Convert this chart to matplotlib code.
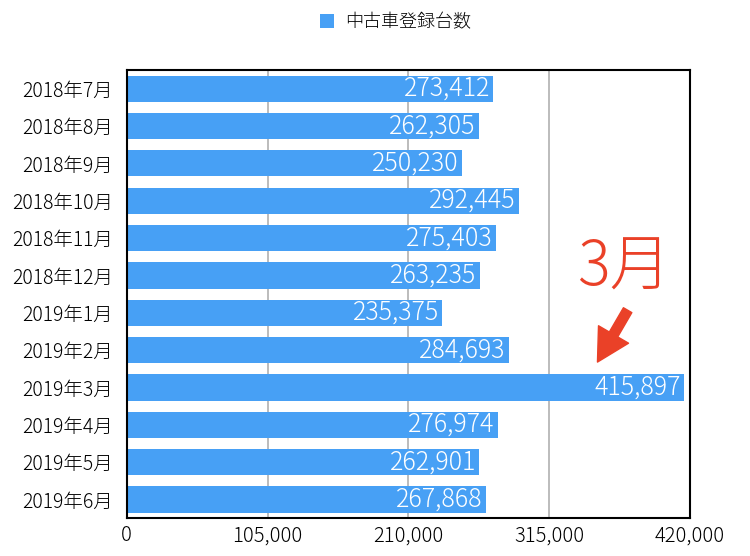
import matplotlib
matplotlib.use('Agg')
import matplotlib.pyplot as plt

plt.rcParams['font.family'] = ['Noto Sans CJK JP', 'DejaVu Sans']
plt.rcParams['font.weight'] = 'light'

# データ
months = ['2018年7月', '2018年8月', '2018年9月', '2018年10月', '2018年11月', '2018年12月',
          '2019年1月', '2019年2月', '2019年3月', '2019年4月', '2019年5月', '2019年6月']
counts = [273412, 262305, 250230, 292445, 275403, 263235,
          235375, 284693, 415897, 276974, 262901, 267868]
xticks = [0, 105000, 210000, 315000, 420000]
series_name = '中古車登録台数'

bar_color = '#47a0f5'
fig = plt.figure(figsize=(7.5, 5.56), dpi=100)
ax = fig.add_axes([0.169, 0.068, 0.751, 0.806])

y = list(range(len(months)))
bars = ax.barh(y, counts, height=0.7, color=bar_color, label=series_name, zorder=2)
ax.set_ylim(len(months) - 0.5, -0.5)
ax.set_xlim(0, 420000)
ax.set_yticks(y)
ax.set_yticklabels(months, fontsize=14)
ax.set_xticks(xticks)
ax.set_xticklabels([f'{v:,}' for v in xticks], fontsize=14.5)
ax.tick_params(axis='y', length=0, pad=10)
ax.tick_params(axis='x', length=0, pad=5)
ax.grid(axis='x', color='#b0b0b0', linewidth=1.2, zorder=1)
for s in ax.spines.values():
    s.set_color('black')
    s.set_linewidth(1.5)

# バー内の数値ラベル
for yi, v in zip(y, counts):
    ax.text(v - 2500, yi, f'{v:,}', color='white', fontsize=18,
            ha='right', va='center', zorder=3)

# 凡例
fig.legend(handles=[bars], labels=[series_name], loc='upper center',
           bbox_to_anchor=(0.527, 1.005), frameon=False, fontsize=13,
           handlelength=0.8, handleheight=0.8, handletextpad=0.6)

# 3月の注釈
ax.text(371000, 4.82, '3月', color='#ea4128', fontsize=44, ha='center', va='center')
ax.annotate('', xy=(351000, 7.32), xytext=(373500, 5.93),
            arrowprops=dict(facecolor='#ea4128', edgecolor='#ea4128',
                            width=7, headwidth=25, headlength=23))

fig.savefig('out.png', dpi=100)
